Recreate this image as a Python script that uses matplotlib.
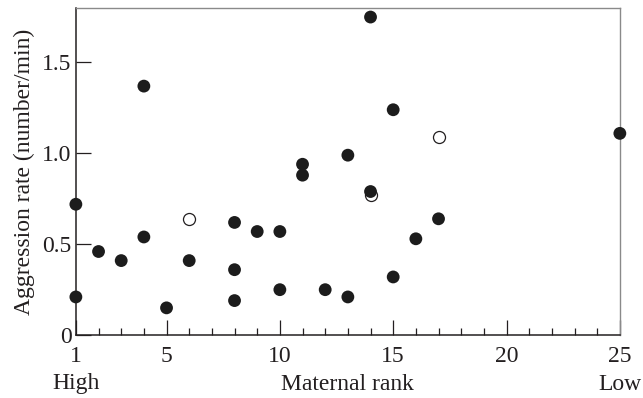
import matplotlib
matplotlib.use('Agg')
import matplotlib.pyplot as plt
from matplotlib.ticker import MultipleLocator, FixedLocator
from matplotlib.transforms import blended_transform_factory

# filled circles: maternal rank vs aggression rate
rank_filled = [1, 1, 2, 3, 4, 4, 5, 6, 8, 8, 8, 9, 10, 10, 11, 11, 12, 13, 13, 14, 14, 15, 15, 16, 17, 25]
rate_filled = [0.72, 0.21, 0.46, 0.41, 0.54, 1.37, 0.15, 0.41, 0.62, 0.36, 0.19, 0.57, 0.57, 0.25,
               0.94, 0.88, 0.25, 0.21, 0.99, 1.75, 0.79, 1.24, 0.32, 0.53, 0.64, 1.11]

# open circles
rank_open = [6, 14, 17]
rate_open = [0.64, 0.77, 1.09]

major_x = [1, 5, 10, 15, 20, 25]
y_ticks = [0, 0.5, 1.0, 1.5]
y_labels = ['0', '0.5', '1.0', '1.5']

plt.rcParams['font.family'] = ['Liberation Serif', 'DejaVu Serif']
txt = '#231f20'
fs = 17

fig = plt.figure(figsize=(6.43, 3.98), dpi=100)
ax = fig.add_axes([0.118, 0.158, 0.846, 0.822])

ax.scatter(rank_open, rate_open, s=75, facecolor='white', edgecolor=txt, linewidth=0.9,
           zorder=3, clip_on=False)
ax.scatter(rank_filled, rate_filled, s=85, color='#1c1c1c', edgecolor='none',
           zorder=4, clip_on=False)

ax.set_xlim(1, 25)
ax.set_ylim(0, 1.8)

ax.xaxis.set_major_locator(FixedLocator(major_x))
ax.xaxis.set_minor_locator(MultipleLocator(1))
ax.set_yticks(y_ticks)
ax.set_yticklabels(y_labels)

ax.tick_params(axis='both', which='major', direction='in', length=10.5, width=0.9,
               color=txt, labelsize=fs, labelcolor=txt)
ax.tick_params(axis='x', which='major', pad=8)
ax.tick_params(axis='y', which='major', pad=3)
ax.tick_params(axis='x', which='minor', direction='in', length=5, width=0.9, color=txt)

for s in ['left', 'bottom']:
    ax.spines[s].set_color(txt)
    ax.spines[s].set_linewidth(1.1)
for s in ['top', 'right']:
    ax.spines[s].set_color('#8a8a8a')
    ax.spines[s].set_linewidth(1.0)

ax.set_ylabel('Aggression rate (number/min)', fontsize=fs, color=txt, labelpad=5)

# bottom row of captions: x in data units, y in figure units
trans = blended_transform_factory(ax.transData, fig.transFigure)
cap_y = 1 - 384 / 398
ax.text(1, cap_y, 'High', transform=trans, ha='center', va='center', fontsize=fs, color=txt)
ax.text(13, cap_y, 'Maternal rank', transform=trans, ha='center', va='center', fontsize=fs, color=txt)
ax.text(25, cap_y, 'Low', transform=trans, ha='center', va='center', fontsize=fs, color=txt)

fig.savefig('out.png', dpi=100)
